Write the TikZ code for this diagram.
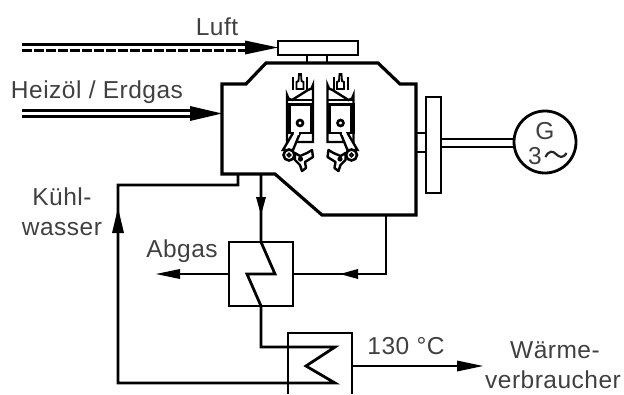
\documentclass[tikz,border=0pt]{standalone}
\usepackage{fontspec}
\setmainfont[LetterSpace=2]{Liberation Sans}
\usetikzlibrary{calc}
\tikzset{
  x=1pt,y=-1pt,
  pipe/.style={line width=2.8pt,line join=miter},
  thick pipe/.style={line width=3.2pt,line join=miter},
  head/.style={fill=black,draw=none},
  lab/.style={font=\fontsize{24.5}{26}\selectfont,inner sep=0pt,text=black!75,anchor=base},
}
\newcommand{\unitcyl}{%
  \draw[line width=2.4pt] (-13,54) -- (-13,7) arc[start angle=180,end angle=90,radius=5] -- (8,2) arc[start angle=90,end angle=0,radius=5] -- (13,54) -- cycle;
  \draw[line width=2pt] (-13,11.5) -- (13,11.5);
  \fill (-14,15) rectangle (14,17.5);
  \fill (-14,15) rectangle (-9.5,44);
  \fill (9.5,15) rectangle (14,44);
  \fill (-14,43.5) rectangle (14,45.5);
  \draw[line width=2pt] (-7,2) -- (-7,-11);
  \draw[line width=2pt] (7,2) -- (7,-11);
  \draw[line width=1.8pt,fill=white] (-3.5,1) -- (-3.5,-6) -- (-1.5,-7) -- (-1,-14) -- (1,-14) -- (1.5,-7) -- (3.5,-6) -- (3.5,1) -- cycle;
  \draw[line width=2.6pt,fill=white] (0,35) circle (3);
  % connecting rod
  \draw[line width=2.4pt,fill=white] (-7,45) -- (-17,62) -- (-7,62) -- (0,45);
  \fill[white] (-5.8,43) -- (-1.2,43) -- (-1.2,46.5) -- (-5.8,46.5) -- cycle;
  % counterweight
  \draw[line width=2.4pt,fill=white,line join=round] (-5,65) -- (0,68) -- (7,65) -- (12,62) -- (13,69) -- (5,74) -- (6,80) -- (2,83) -- (0,77) -- (-5,72) -- cycle;
  \fill (0.5,71) circle (2.6);
  % crank
  \draw[line width=2.6pt,fill=white] (-11,67) circle (5.5);
  \draw[line width=1.6pt,fill=white] (-11,67) circle (1.8);
}
\begin{document}
\begin{tikzpicture}
\useasboundingbox (0,0) rectangle (624,394);
\coordinate (l1) at (22,44.5);
\coordinate (l2) at (22,50.5);
\coordinate (h1) at (22,110.5);
\coordinate (h2) at (22,116.5);
% Luft
\draw[thick pipe] (l1) -- (248,44.5);
\draw[thick pipe,dash pattern=on 9.5pt off 2.5pt] (l2) -- (248,50.5);
\fill[head] (278,47.5) -- (245,40.5) -- (245,54.5) -- cycle;
\node[draw,line width=2.6pt,minimum width=80pt,minimum height=14pt,inner sep=0pt] (filter) at (318,48) {};
\draw[pipe] (307,55) -- (307,63);
\draw[pipe] (327,55) -- (327,63);
% Heizoel
\draw[thick pipe] (h1) -- (193,110.5);
\draw[thick pipe] (h2) -- (193,116.5);
\fill[head] (222,113.5) -- (190,106) -- (190,121) -- cycle;
% engine
\draw[thick pipe] (222,84) -- (246,84) -- (266,63) -- (378,63) -- (400,84) -- (416,84) -- (416,215) -- (322,215) -- (275,174) -- (222,174) -- cycle;
\begin{scope}[shift={(300,88)}]\unitcyl\end{scope}
\begin{scope}[shift={(340.5,88)},xscale=-1]\unitcyl\end{scope}
% flywheel, shaft, generator
\draw[pipe] (416,133) -- (426,133);
\draw[pipe] (416,152) -- (426,152);
\draw[pipe] (426,97) rectangle (441,193);
\draw[pipe] (441,139) -- (514,139);
\draw[pipe] (441,147) -- (514,147);
\node[draw,circle,line width=2.8pt,minimum size=62pt,inner sep=0pt,fill=white] (gen) at (545,142) {};
\node[lab] (g) at (545,139) {G};
\node[lab] (three) at (535,164) {3};
\draw[line width=2.2pt,black!85] (545.5,157) .. controls (549,150) and (553,151) .. (556,154) .. controls (559,157) and (563,159) .. (566.5,153);
% exhaust heat exchanger
\node[draw,line width=2.8pt,minimum width=64pt,minimum height=64pt,inner sep=0pt] (wt1) at (261,274) {};
\draw[pipe] (261,174) -- (261,242) -- (275,274) -- (247,274) -- (261,306) -- (261,347) -- (335,347) -- (306,366) -- (335,383) -- (118,383) -- (118,185) -- (238,185) -- (238,174);
\fill[head] (261,215) -- (256,197) -- (266,197) -- cycle;
\fill[head] (118,208) -- (112,233) -- (124,233) -- cycle;
\draw[pipe] (wt1.east) -- (386,274) -- (386,215);
\fill[head] (340,274) -- (358,269) -- (358,279) -- cycle;
\draw[pipe] (wt1.west) -- (170,274);
\fill[head] (156,274) -- (180,269) -- (180,279) -- cycle;
% second exchanger, open at the bottom
\draw[pipe] (288,394) -- (288,333) -- (352,333) -- (352,394);
\draw[pipe] (352,366) -- (470,366);
\fill[head] (483,366) -- (457,360.5) -- (457,371.5) -- cycle;
% labels
\node[lab] (luft) at (217,35) {Luft};
\node[lab] (heiz) at (97,98) {Heizöl / Erdgas};
\node[lab] (kuehl) at (62,205) {Kühl-};
\node[lab] (wasser) at (62,235) {wasser};
\node[lab] (abgas) at (182,257) {Abgas};
\node[lab] (temp) at (406,354) {130 °C};
\node[lab] (waerme) at (555,358) {Wärme-};
\node[lab] (verbr) at (553,388) {verbraucher};
\end{tikzpicture}
\end{document}
